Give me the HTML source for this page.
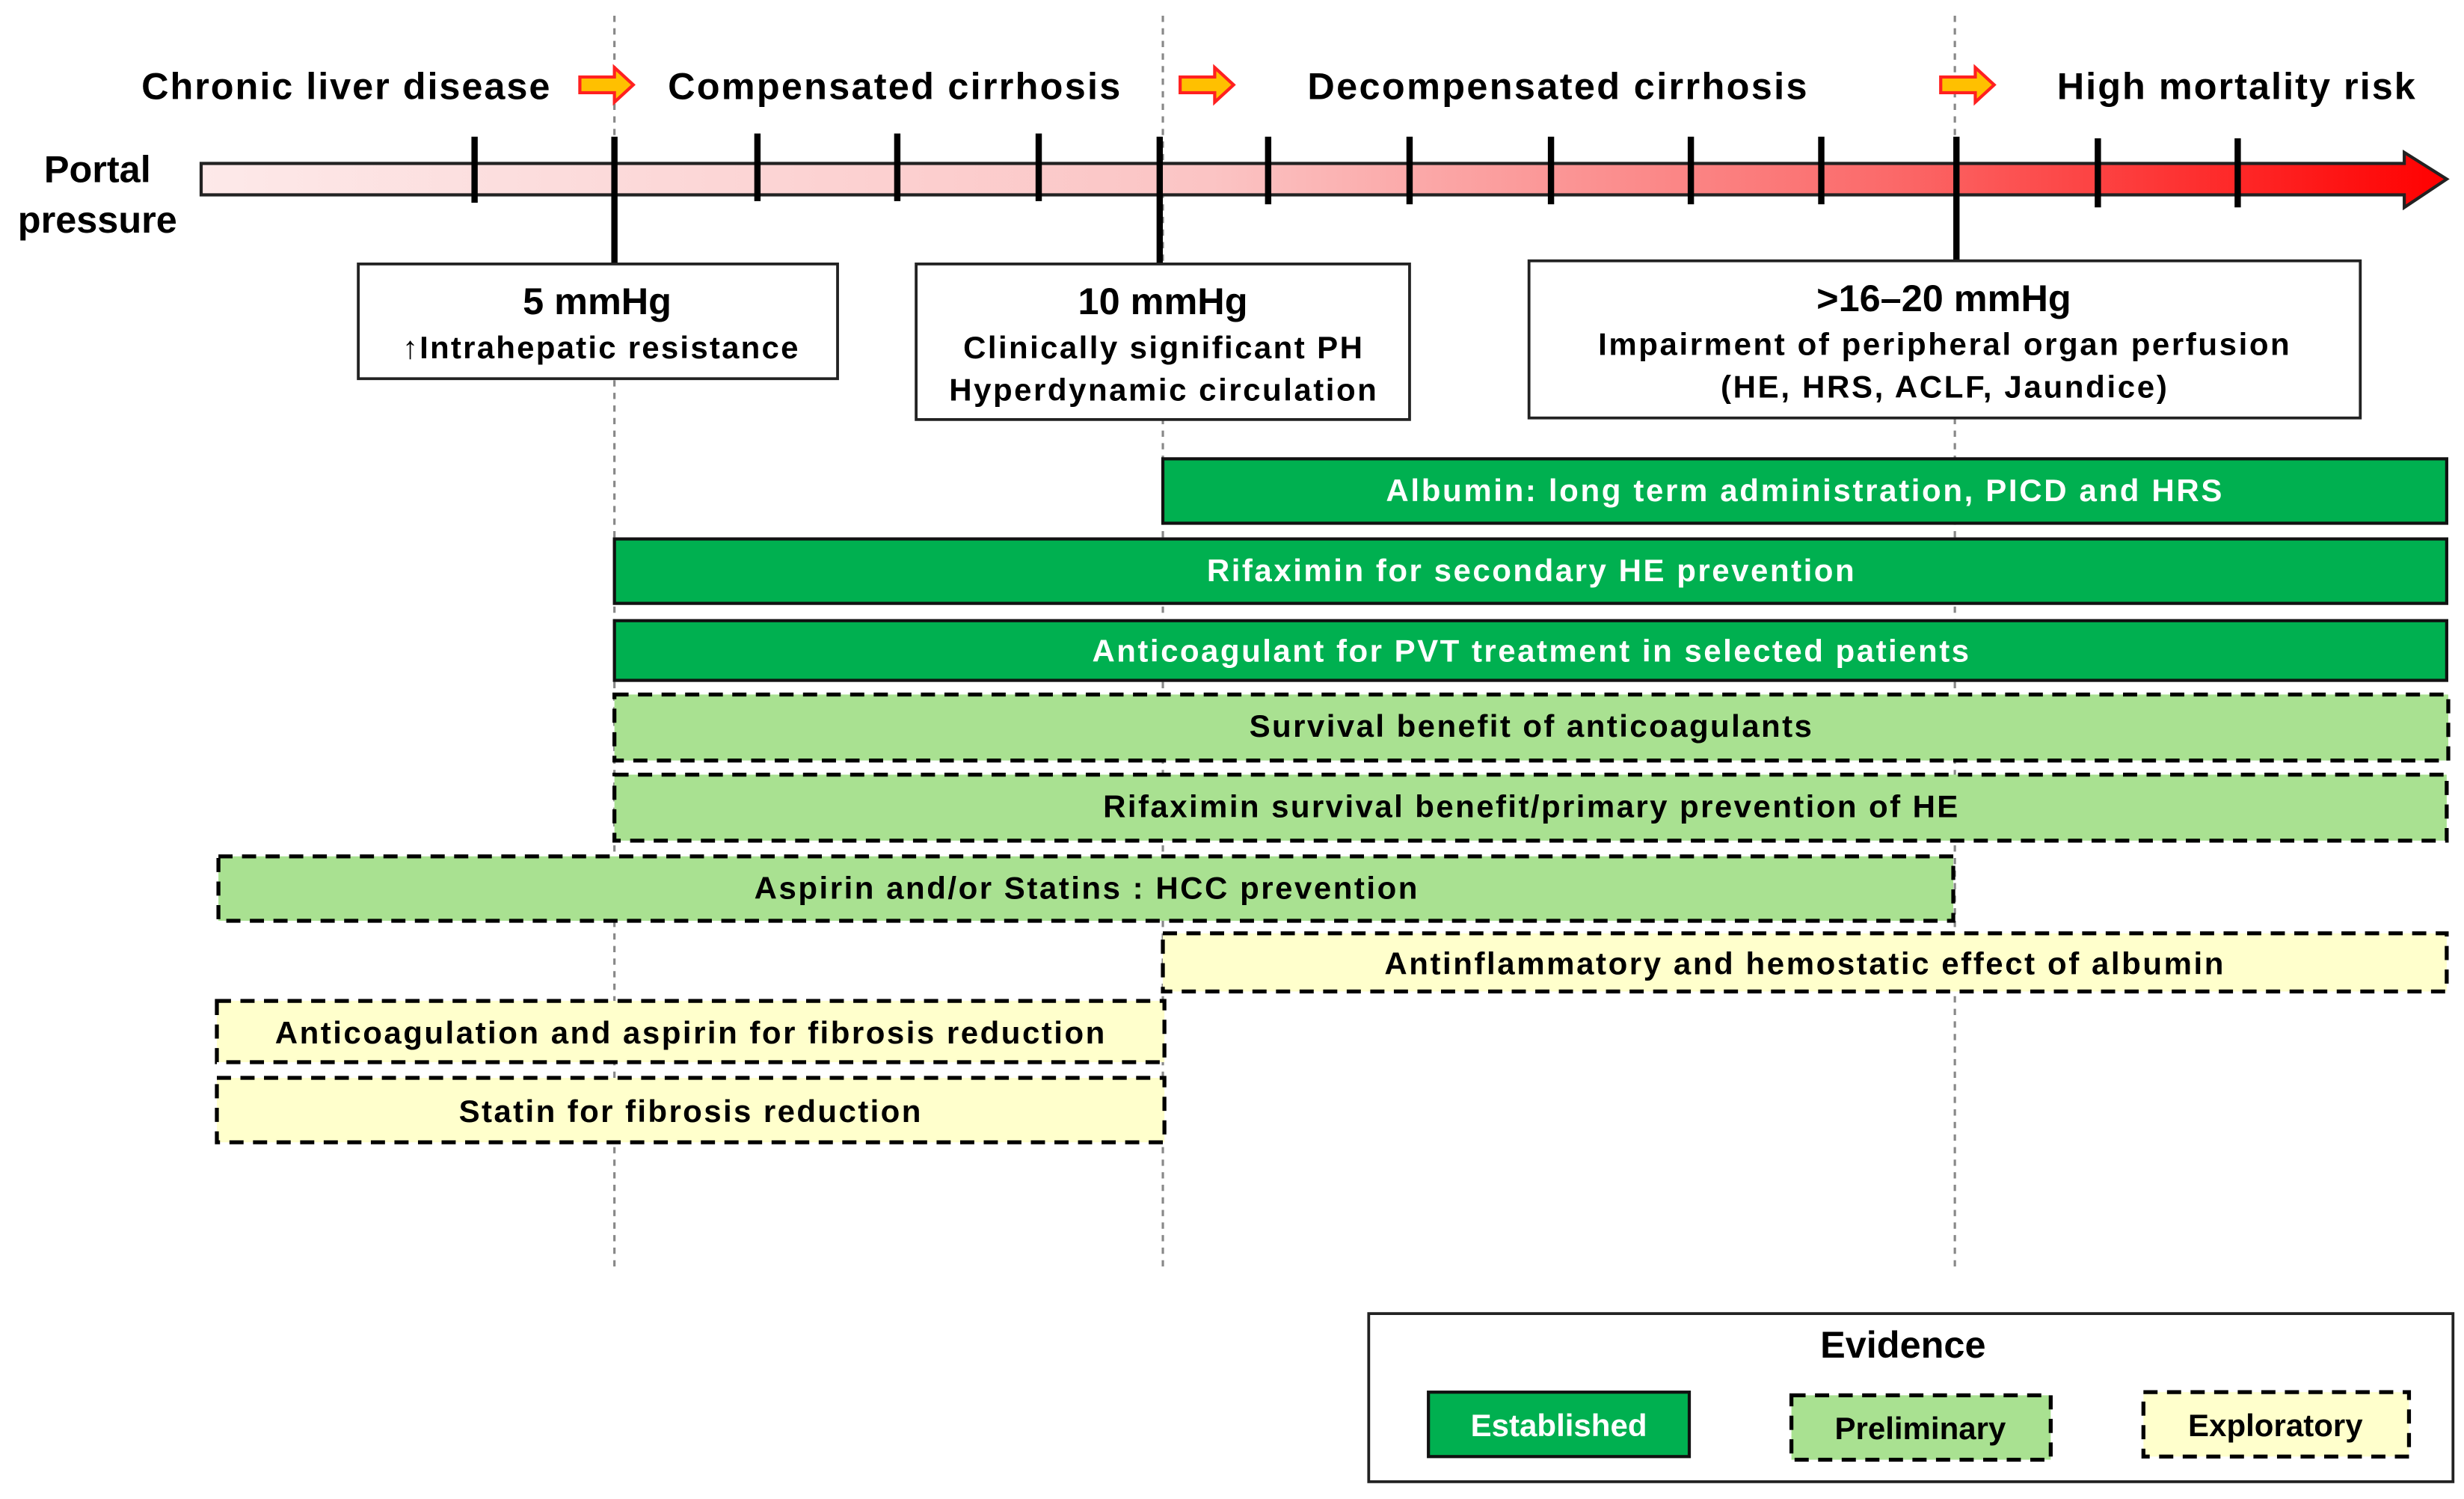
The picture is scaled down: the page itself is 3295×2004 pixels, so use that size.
<!DOCTYPE html>
<html><head><meta charset="utf-8"><style>html,body{margin:0;padding:0;background:#fff}svg{display:block}text{font-family:"Liberation Sans",Arial,sans-serif;font-weight:bold}</style></head>
<body>
<svg width="3295" height="2004" viewBox="0 0 1568 954" preserveAspectRatio="none" xmlns="http://www.w3.org/2000/svg">
<defs>
<linearGradient id="g" x1="0" x2="1" y1="0" y2="0"><stop offset="0" stop-color="#fde9e9"/><stop offset="0.45" stop-color="#fbc4c4"/><stop offset="0.75" stop-color="#fb6a6a"/><stop offset="1" stop-color="#ff0000"/></linearGradient>
<g id="sa"><path d="M0,-5 H22 V-11 L34,0 L22,11 V5 H0 Z" fill="#ffc000" stroke="#ff2020" stroke-width="2"/></g>
</defs>
<g stroke="#888" stroke-width="1.5" stroke-dasharray="4,4">
<line x1="391" y1="10" x2="391" y2="806"/><line x1="740" y1="10" x2="740" y2="806"/><line x1="1244" y1="10" x2="1244" y2="806"/>
</g>
<g font-size="24" fill="#000">
<text x="90" y="63" textLength="260">Chronic liver disease</text>
<text x="425" y="63" textLength="288">Compensated cirrhosis</text>
<text x="832" y="63" textLength="318">Decompensated cirrhosis</text>
<text x="1309" y="63" textLength="228">High mortality risk</text>
</g>
<use href="#sa" x="369" y="54"/><use href="#sa" x="751" y="54"/><use href="#sa" x="1235" y="54"/>
<text x="62" y="116" font-size="24" text-anchor="middle">Portal</text>
<text x="62" y="148" font-size="24" text-anchor="middle">pressure</text>
<path d="M128,104 H1530 V97 L1557,114 L1530,132 V124 H128 Z" fill="url(#g)" stroke="#222" stroke-width="2"/>
<g stroke="#000" stroke-width="4">
<line x1="302" y1="87" x2="302" y2="129"/><line x1="391" y1="87" x2="391" y2="168"/><line x1="482" y1="85" x2="482" y2="128"/><line x1="571" y1="85" x2="571" y2="128"/><line x1="661" y1="85" x2="661" y2="128"/><line x1="738" y1="87" x2="738" y2="168"/><line x1="807" y1="87" x2="807" y2="130"/><line x1="897" y1="87" x2="897" y2="130"/><line x1="987" y1="87" x2="987" y2="130"/><line x1="1076" y1="87" x2="1076" y2="130"/><line x1="1159" y1="87" x2="1159" y2="130"/><line x1="1245" y1="87" x2="1245" y2="166"/><line x1="1335" y1="88" x2="1335" y2="132"/><line x1="1424" y1="88" x2="1424" y2="132"/>
</g>
<g fill="#fff" stroke="#222" stroke-width="1.8">
<rect x="228" y="168" width="305" height="73"/><rect x="583" y="168" width="314" height="99"/><rect x="973" y="166" width="529" height="100"/>
</g>
<g text-anchor="middle">
<text x="380" y="200" font-size="24">5 mmHg</text><text x="382" y="228" font-size="20" textLength="252">↑Intrahepatic resistance</text>
<text x="740" y="200" font-size="24">10 mmHg</text><text x="740" y="228" font-size="20" textLength="254">Clinically significant PH</text><text x="740" y="255" font-size="20" textLength="272">Hyperdynamic circulation</text>
<text x="1237" y="198" font-size="24">&gt;16–20 mmHg</text><text x="1237" y="226" font-size="20" textLength="440">Impairment of peripheral organ perfusion</text><text x="1237" y="253" font-size="20" textLength="284">(HE, HRS, ACLF, Jaundice)</text>
</g>
<g fill="#00b050" stroke="#111" stroke-width="2">
<rect x="740" y="292" width="817" height="41"/><rect x="391" y="343" width="1166" height="41"/><rect x="391" y="395" width="1166" height="38"/>
<rect x="909" y="886" width="166" height="41"/>
</g>
<g fill="#a9e191" stroke="#000" stroke-width="2.5" stroke-dasharray="9,6">
<rect x="391" y="442" width="1167" height="42"/><rect x="391" y="493" width="1166" height="42"/><rect x="139" y="545" width="1104" height="41"/>
<rect x="1140" y="888" width="165" height="41"/>
</g>
<g fill="#ffffcc" stroke="#000" stroke-width="2.5" stroke-dasharray="9,6">
<rect x="740" y="594" width="817" height="37"/><rect x="138" y="637" width="603" height="39"/><rect x="138" y="686" width="603" height="41"/>
<rect x="1364" y="886" width="169" height="41"/>
</g>
<g font-size="20" text-anchor="middle">
<text x="1148" y="319" fill="#fff" textLength="532">Albumin: long term administration, PICD and HRS</text>
<text x="974" y="370" fill="#fff" textLength="412">Rifaximin for secondary HE prevention</text>
<text x="974" y="421" fill="#fff" textLength="558">Anticoagulant for PVT treatment in selected patients</text>
<text x="974" y="469" textLength="358">Survival benefit of anticoagulants</text>
<text x="974" y="520" textLength="544">Rifaximin survival benefit/primary prevention of HE</text>
<text x="691" y="572" textLength="422">Aspirin and/or Statins : HCC prevention</text>
<text x="1148" y="620" textLength="534">Antinflammatory and hemostatic effect of albumin</text>
<text x="439" y="664" textLength="528">Anticoagulation and aspirin for fibrosis reduction</text>
<text x="439" y="714" textLength="294">Statin for fibrosis reduction</text>
</g>
<rect x="871" y="836" width="690" height="107" fill="none" stroke="#222" stroke-width="1.8"/>
<text x="1211" y="864" font-size="24" text-anchor="middle">Evidence</text>
<g font-size="20" text-anchor="middle">
<text x="992" y="914" fill="#fff">Established</text>
<text x="1222" y="916">Preliminary</text>
<text x="1448" y="914">Exploratory</text>
</g>
</svg>
</body></html>
